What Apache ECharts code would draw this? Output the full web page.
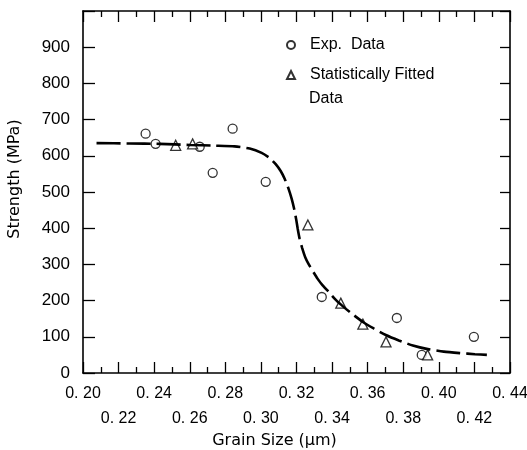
<!DOCTYPE html>
<html>
<head>
<meta charset="utf-8">
<script src="https://cdn.jsdelivr.net/npm/echarts@6/dist/echarts.min.js"></script>
<style>html,body{margin:0;padding:0;background:#fff}#c{width:527px;height:450px}</style>
</head>
<body>
<div id="c"></div>
<script>
// Fitted curve (dashed)
const curveX = [0.2076, 0.2262, 0.2430, 0.2600, 0.2740, 0.2852, 0.2937, 0.3004, 0.3049, 0.3083, 0.3111, 0.3134, 0.3156, 0.3173, 0.3187, 0.3198, 0.3207, 0.3218, 0.3232, 0.3249, 0.3269, 0.3291, 0.3319, 0.3347, 0.3381, 0.3421, 0.3466, 0.3516, 0.3573, 0.3634, 0.3702, 0.3775, 0.3854, 0.3938, 0.4028, 0.4118, 0.4203, 0.4270];
const curveY = [635, 634, 633, 630, 628, 626, 620, 608, 594, 577, 558, 536, 508, 481, 453, 425, 398, 370, 345, 320, 300, 282, 260, 242, 224, 202, 182, 162, 141, 123, 105, 90, 76, 66, 59, 55, 52, 50];
// Experimental data (circles)
const expX = [0.2352, 0.2408, 0.2656, 0.2729, 0.2841, 0.3027, 0.3342, 0.3764, 0.3904, 0.4197];
const expY = [661, 633, 625, 553, 675, 528, 210, 152, 50, 100];
// Statistically fitted data (triangles)
const fitX = [0.2521, 0.2616, 0.3264, 0.3449, 0.3573, 0.3703, 0.3937];
const fitY = [629, 633, 409, 193, 135, 86, 50];
// Tick labels
const xLabelsRow1 = [0.20, 0.24, 0.28, 0.32, 0.36, 0.40, 0.44];
const xLabelsRow2 = [0.22, 0.26, 0.30, 0.34, 0.38, 0.42];
const xMinorTicks = [0.21,0.23,0.25,0.27,0.29,0.31,0.33,0.35,0.37,0.39,0.41,0.43];
const xMajorTicks = [0.20,0.22,0.24,0.26,0.28,0.30,0.32,0.34,0.36,0.38,0.40,0.42,0.44];
const yLabels = [0, 100, 200, 300, 400, 500, 600, 700, 800, 900];
const seriesNames = ['Exp.  Data', 'Statistically Fitted Data'];
const legendLines = ['Exp.  Data', 'Statistically Fitted', 'Data'];

const zip = (a, b) => a.map((v, i) => [v, b[i]]);
const FONT = "'Liberation Sans', Arial, sans-serif";
const fmtX = v => v.toFixed(2).replace('.', '. ');

const baseX = {
  type: 'value', min: 0.20, max: 0.44, interval: 0.02,
  splitLine: { show: false },
  axisLine: { show: true, lineStyle: { color: '#000', width: 1.6 } }
};

const chart = echarts.init(document.getElementById('c'));
chart.setOption({
  animation: false,
  backgroundColor: '#fff',
  grid: { left: 83, right: 17, top: 11, bottom: 77, containLabel: false, outerBoundsMode: 'none' },
  xAxis: [
    Object.assign({}, baseX, {
      position: 'bottom',
      name: 'Grain Size (μm)', nameLocation: 'middle', nameGap: 60,
      nameTextStyle: { fontFamily: "'DejaVu Sans', sans-serif", fontSize: 16, color: '#000', padding: [0, 44, 0, 0] },
      axisTick: { show: true, inside: true, length: 11, customValues: xMajorTicks, lineStyle: { color: '#000', width: 1.3 } },
      minorTick: { show: false },
      axisLabel: { show: true, customValues: xLabelsRow1, formatter: fmtX, margin: 13, fontFamily: FONT, fontSize: 16, color: '#000' }
    }),
    Object.assign({}, baseX, {
      position: 'bottom',
      axisLine: { show: false },
      axisTick: { show: true, inside: true, length: 6, customValues: xMinorTicks, lineStyle: { color: '#000', width: 1.3 } },
      axisLabel: { show: true, customValues: xLabelsRow2, formatter: fmtX, margin: 38, fontFamily: FONT, fontSize: 16, color: '#000' }
    }),
    Object.assign({}, baseX, {
      position: 'top',
      axisTick: { show: true, inside: true, length: 11, customValues: xMajorTicks, lineStyle: { color: '#000', width: 1.3 } },
      axisLabel: { show: false }
    }),
    Object.assign({}, baseX, {
      position: 'top',
      axisLine: { show: false },
      axisTick: { show: true, inside: true, length: 6, customValues: xMinorTicks, lineStyle: { color: '#000', width: 1.3 } },
      axisLabel: { show: false }
    })
  ],
  yAxis: [
    {
      type: 'value', min: 0, max: 1000, interval: 100, position: 'left',
      name: 'Strength (MPa)', nameLocation: 'middle', nameGap: 60,
      nameTextStyle: { fontFamily: "'DejaVu Sans', sans-serif", fontSize: 16, color: '#000', padding: [0, 0, 0, 26] },
      splitLine: { show: false },
      axisLine: { show: true, lineStyle: { color: '#000', width: 1.6 } },
      axisTick: { show: true, inside: true, length: 12, lineStyle: { color: '#000', width: 1.3 } },
      axisLabel: { customValues: yLabels, margin: 13, fontFamily: FONT, fontSize: 17, color: '#000' }
    },
    {
      type: 'value', min: 0, max: 1000, interval: 100, position: 'right',
      splitLine: { show: false },
      axisLine: { show: true, lineStyle: { color: '#000', width: 1.6 } },
      axisTick: { show: true, inside: true, length: 10, lineStyle: { color: '#000', width: 1.3 } },
      axisLabel: { show: false }
    }
  ],
  legend: {
    orient: 'vertical', left: 286, top: 33, padding: 0, itemWidth: 8, itemHeight: 8, itemGap: 6,
    data: seriesNames,
    formatter: n => n === seriesNames[1] ? legendLines[1] : legendLines[0],
    textStyle: { fontFamily: FONT, fontSize: 16, color: '#000', lineHeight: 24, padding: [0, 0, 0, 10] },
    selectedMode: false
  },
  graphic: [{
    type: 'text', left: 309, top: 91,
    style: { text: legendLines[2], font: "16px 'Liberation Sans', Arial, sans-serif", fill: '#000' }
  }],
  series: [
    {
      type: 'line', name: 'curve', data: zip(curveX, curveY), smooth: 0.2,
      showSymbol: false, silent: true,
      lineStyle: { color: '#000', width: 2.6, type: [24, 6] }
    },
    {
      type: 'scatter', name: seriesNames[0], data: zip(expX, expY),
      symbol: 'circle', symbolSize: 9,
      itemStyle: { color: '#fff', borderColor: '#000', borderWidth: 1.3 }
    },
    {
      type: 'scatter', name: seriesNames[1], data: zip(fitX, fitY),
      symbol: 'triangle', symbolSize: 10,
      itemStyle: { color: '#fff', borderColor: '#000', borderWidth: 1.3 }
    }
  ]
});
</script>
</body>
</html>
